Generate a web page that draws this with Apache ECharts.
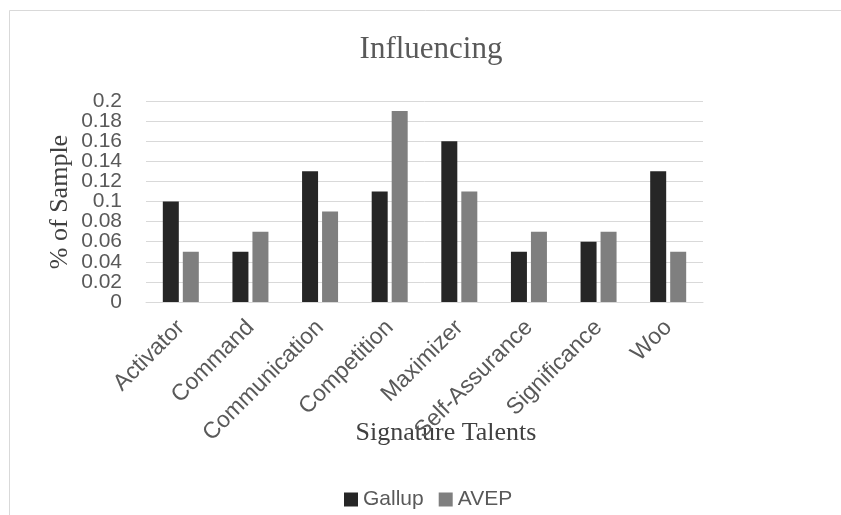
<!DOCTYPE html>
<html>
<head>
<meta charset="utf-8">
<script src="https://cdn.jsdelivr.net/npm/echarts@6/dist/echarts.min.js"></script>
<style>
html,body{margin:0;padding:0;background:#fff;}
#chart{width:841px;height:515px;}
</style>
</head>
<body>
<div id="chart"></div>
<script>
const categories = ['Activator','Command','Communication','Competition','Maximizer','Self-Assurance','Significance','Woo'];
const gallup = [0.10, 0.05, 0.13, 0.11, 0.16, 0.05, 0.06, 0.13];
const avep   = [0.05, 0.07, 0.09, 0.19, 0.11, 0.07, 0.07, 0.05];
const seriesNames = ['Gallup', 'AVEP'];
const yMin = 0, yMax = 0.2, yStep = 0.02;
const titleText = 'Influencing';
const xTitle = 'Signature Talents';
const yTitle = '% of Sample';

const chart = echarts.init(document.getElementById('chart'), null, {renderer: 'canvas'});
const sans = '"Liberation Sans", Arial, sans-serif';
const serif = '"Liberation Serif", "Times New Roman", serif';
const yLabelStyle = {
  margin: 24, fontFamily: sans, fontSize: 21, color: '#595959',
  formatter: v => String(+v.toFixed(2))
};
chart.setOption({
  animation: false,
  backgroundColor: '#ffffff',
  grid: {left: 146, right: 138, top: 101, bottom: 213, containLabel: false},
  legend: {
    data: seriesNames,
    left: 339, top: 484,
    icon: 'rect', itemWidth: 14, itemHeight: 14, itemGap: 15,
    textStyle: {fontFamily: sans, fontSize: 21, color: '#595959'}
  },
  xAxis: {
    type: 'category',
    data: categories,
    axisLine: {show: true, lineStyle: {color: '#d9d9d9', width: 1}},
    axisTick: {show: false},
    axisLabel: {rotate: 45, interval: 0, margin: 22, fontFamily: sans, fontSize: 23, color: '#595959'}
  },
  yAxis: [
    {
      type: 'value', position: 'left',
      min: yMin, max: yMax, interval: yStep,
      axisLine: {show: false},
      axisTick: {show: false},
      splitLine: {lineStyle: {color: '#d9d9d9', width: 1}},
      axisLabel: Object.assign({showMinLabel: false, showMaxLabel: false}, yLabelStyle)
    },
    {
      type: 'value', position: 'left', offset: 0,
      min: yMin, max: yMax, interval: yMax - yMin,
      axisLine: {show: false},
      axisTick: {show: false},
      splitLine: {show: false},
      axisLabel: Object.assign({showMinLabel: true, showMaxLabel: true}, yLabelStyle)
    }
  ],
  series: [
    {name: seriesNames[0], type: 'bar', data: gallup, barWidth: 16, barGap: '25%',
     itemStyle: {color: '#262626'}},
    {name: seriesNames[1], type: 'bar', data: avep, barWidth: 16, barGap: '25%',
     itemStyle: {color: '#7f7f7f'}}
  ],
  graphic: [
    {type: 'rect', silent: true, z: -1,
     shape: {x: 9.5, y: 10.5, width: 1000, height: 1000},
     style: {fill: 'none', stroke: '#d9d9d9', lineWidth: 1}},
    {type: 'text', silent: true, x: 431, y: 50,
     style: {text: titleText, font: '31px ' + serif, fill: '#595959', textAlign: 'center', textVerticalAlign: 'middle'}},
    {type: 'text', silent: true, x: 446, y: 433,
     style: {text: xTitle, font: '26px ' + serif, fill: '#404040', textAlign: 'center', textVerticalAlign: 'middle'}},
    {type: 'text', silent: true, x: 60, y: 202, rotation: Math.PI / 2,
     style: {text: yTitle, font: '26px ' + serif, fill: '#404040', textAlign: 'center', textVerticalAlign: 'middle'}}
  ]
});
</script>
</body>
</html>
